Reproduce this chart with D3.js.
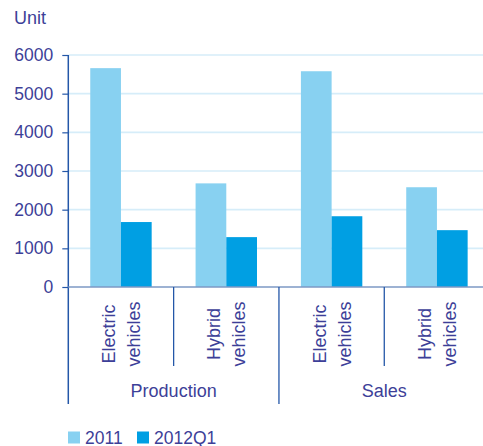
<!DOCTYPE html>
<html>
<head>
<meta charset="utf-8">
<script src="https://cdn.jsdelivr.net/npm/d3@7"></script>
<style>
  html, body { margin: 0; padding: 0; background: #fff; }
  svg { display: block; }
  text { font-family: "Liberation Sans", Arial, sans-serif; fill: #3d3f98; }
</style>
</head>
<body>
<svg id="chart" width="483" height="446"></svg>
<script>
// Units produced / sold, by vehicle type
const groups = ["Production", "Sales"];
const categories = [
  { group: "Production", lines: ["Electric", "vehicles"] },
  { group: "Production", lines: ["Hybrid", "vehicles"] },
  { group: "Sales", lines: ["Electric", "vehicles"] },
  { group: "Sales", lines: ["Hybrid", "vehicles"] }
];
const series = ["2011", "2012Q1"];
const values2011 = [5660, 2680, 5580, 2580];
const values2012Q1 = [1680, 1290, 1830, 1470];
const yTicks = [0, 1000, 2000, 3000, 4000, 5000, 6000];
const seriesColors = ["#88d1f1", "#009fe3"];

const svg = d3.select("#chart");
const textColor = "#3d3f98";
const axisColor = "#2457a8";

const x0 = 68.3, x1 = 489.6, yTop = 55, yZero = 287;

const y = d3.scaleLinear().domain([0, 6000]).range([yZero, yTop]);
const xCat = d3.scaleBand().domain(d3.range(categories.length)).range([x0, x1]).padding(0);
const xSeries = d3.scaleBand().domain(series).range([0, xCat.bandwidth()])
  .paddingInner(0).paddingOuter(0.715);

// horizontal gridlines
svg.append("g").selectAll("line").data(yTicks.filter(d => d > 0)).join("line")
  .attr("x1", x0).attr("x2", x1)
  .attr("y1", d => y(d)).attr("y2", d => y(d))
  .attr("stroke", "#d6edf9").attr("stroke-width", 1.6);

// bars
const table = categories.map((c, i) => ({ i, vals: [values2011[i], values2012Q1[i]] }));
const gCat = svg.append("g").selectAll("g").data(table).join("g")
  .attr("transform", d => `translate(${xCat(d.i)},0)`);
gCat.selectAll("rect").data(d => d.vals.map((v, k) => ({ key: series[k], v, k }))).join("rect")
  .attr("x", d => xSeries(d.key))
  .attr("width", xSeries.bandwidth())
  .attr("y", d => y(d.v))
  .attr("height", d => yZero - y(d.v))
  .attr("fill", d => seriesColors[d.k]);

// y axis
const yAxis = d3.axisLeft(y).tickValues(yTicks).tickSize(6).tickPadding(10).tickFormat(d3.format("d"));
const gy = svg.append("g").attr("transform", `translate(${x0},0)`).call(yAxis);
gy.select(".domain").remove();
gy.selectAll(".tick line").attr("stroke", axisColor).attr("stroke-width", 1.2);
gy.selectAll(".tick text").attr("font-size", 17.5).attr("fill", textColor)
  .attr("font-family", "Liberation Sans, Arial, sans-serif").attr("dx", "1px");
svg.append("line").attr("x1", x0).attr("x2", x0).attr("y1", yTop).attr("y2", 404)
  .attr("stroke", axisColor).attr("stroke-width", 1.5);

// zero baseline
svg.append("line").attr("x1", x0).attr("x2", x1).attr("y1", yZero).attr("y2", yZero)
  .attr("stroke", "#7d98c4").attr("stroke-width", 1.6);

// category separators
const seps = d3.range(1, categories.length).map(i => ({
  x: xCat(i),
  isGroup: categories[i].group !== categories[i - 1].group
}));
svg.append("g").selectAll("line").data(seps).join("line")
  .attr("x1", d => d.x).attr("x2", d => d.x)
  .attr("y1", yZero).attr("y2", d => d.isGroup ? 404 : 366)
  .attr("stroke", axisColor).attr("stroke-width", 1.3);

// rotated category labels
svg.append("g").selectAll("g").data(categories).join("g")
  .attr("transform", (d, i) => `translate(${xCat(i) + xCat.bandwidth() / 2},334) rotate(-90)`)
  .each(function (d) {
    const g = d3.select(this);
    d.lines.forEach((t, j) => {
      g.append("text").attr("x", 0).attr("y", (j - 0.5) * 25 + 6.5)
        .attr("text-anchor", "middle").attr("font-size", 18).text(t);
    });
  });

// group labels
groups.forEach(gName => {
  const idx = categories.map((c, i) => c.group === gName ? i : -1).filter(i => i >= 0);
  const cx = (xCat(idx[0]) + xCat(idx[idx.length - 1]) + xCat.bandwidth()) / 2;
  svg.append("text").attr("x", cx).attr("y", 397).attr("text-anchor", "middle")
    .attr("font-size", 18).text(gName);
});

// unit label
svg.append("text").attr("x", 14).attr("y", 24).attr("font-size", 18).text("Unit");

// legend
const leg = svg.append("g").attr("transform", "translate(68,431)");
const legX = [0, 69];
series.forEach((s, k) => {
  leg.append("rect").attr("x", legX[k]).attr("y", 0.5).attr("width", 12).attr("height", 12)
    .attr("fill", seriesColors[k]);
  leg.append("text").attr("x", legX[k] + 17).attr("y", 12.5).attr("font-size", 17.5).text(s);
});
</script>
</body>
</html>
